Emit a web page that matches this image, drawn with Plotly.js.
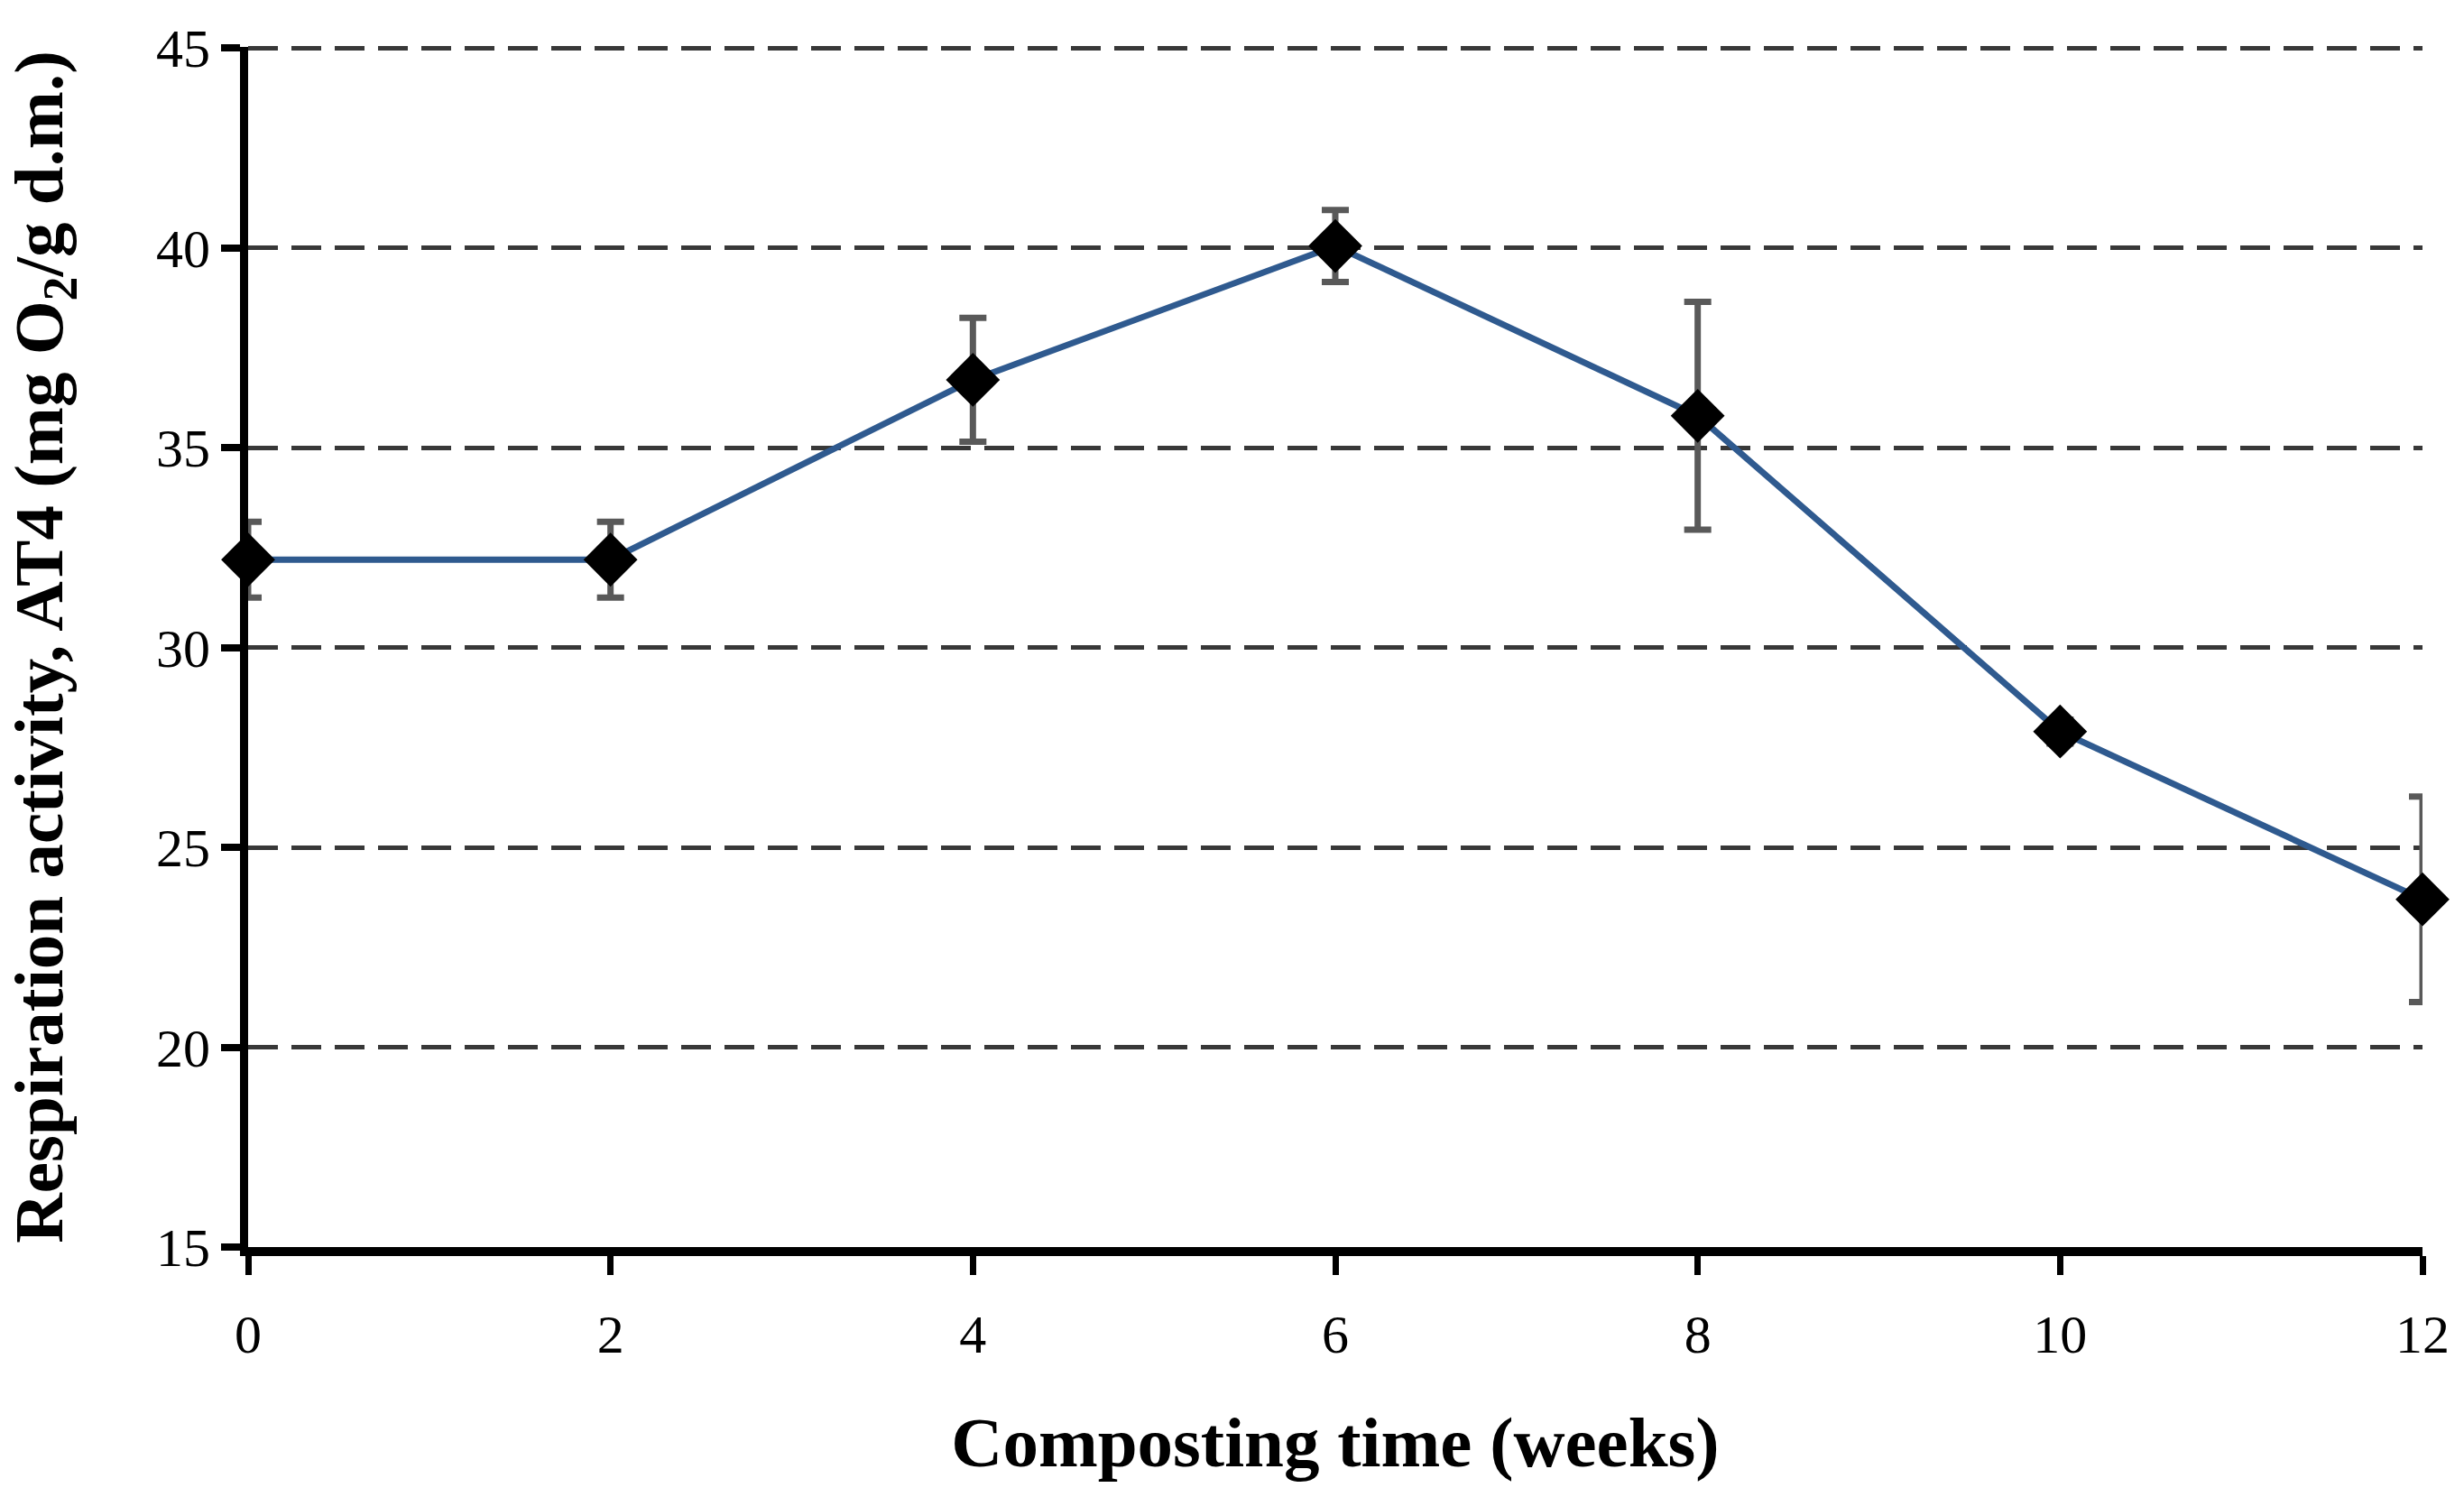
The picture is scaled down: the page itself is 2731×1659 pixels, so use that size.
<!DOCTYPE html>
<html>
<head>
<meta charset="utf-8">
<script src="https://cdn.plot.ly/plotly-3.0.1.min.js"></script>
<style>html,body{margin:0;padding:0;background:#fff;}#chart{width:2731px;height:1659px;}</style>
</head>
<body>
<div id="chart"></div>
<script>
// Data
const weeks = [0, 2, 4, 6, 8, 10, 12];
const at4 = [32.2, 32.2, 36.7, 40.05, 35.8, 27.9, 23.7];
const at4Err = [0.95, 0.95, 1.55, 0.9, 2.85, 0.3, 2.57];
const xTickVals = [0, 2, 4, 6, 8, 10, 12];
const yTickVals = [15, 20, 25, 30, 35, 40, 45];
const xTitle = "<b>Composting time (weeks)</b>";
const yTitle = "<b>Respiration activity, AT4 (mg O<sub>2</sub>/g d.m.)</b>";

const trace = {
  x: weeks,
  y: at4,
  type: 'scatter',
  mode: 'lines+markers',
  line: {color: '#2f5a8f', width: 7},
  marker: {symbol: 'diamond', size: 46, color: '#000000'},
  error_y: {type: 'data', array: at4Err, visible: true, color: '#595959', thickness: 7, width: 15},
  cliponaxis: false,
  showlegend: false
};

const layout = {
  width: 2731,
  height: 1659,
  margin: {l: 275, r: 46, t: 52, b: 277},
  paper_bgcolor: '#ffffff',
  plot_bgcolor: '#ffffff',
  font: {family: 'Liberation Serif, Times New Roman, serif', color: '#000000'},
  xaxis: {
    range: [0, 12],
    tickvals: xTickVals,
    ticktext: xTickVals.map(String),
    showgrid: false,
    zeroline: false,
    showline: true,
    linecolor: '#000000',
    linewidth: 10,
    ticks: 'outside',
    ticklen: 21,
    tickwidth: 7,
    tickcolor: '#000000',
    ticklabelstandoff: 14,
    tickfont: {size: 60, family: 'Liberation Serif, serif', color: '#000000'},
    title: {text: xTitle, font: {size: 79, family: 'Liberation Serif, serif', color: '#000000'}, standoff: 63}
  },
  yaxis: {
    range: [15, 45.03],
    tickvals: yTickVals,
    ticktext: yTickVals.map(String),
    showgrid: true,
    gridcolor: '#383838',
    gridwidth: 5,
    griddash: '33px,15px',
    zeroline: false,
    showline: true,
    linecolor: '#000000',
    linewidth: 9,
    ticks: 'outside',
    ticklen: 21,
    tickwidth: 8,
    tickcolor: '#000000',
    tickfont: {size: 60, family: 'Liberation Serif, serif', color: '#000000'},
    title: {text: yTitle, font: {size: 77, family: 'Liberation Serif, serif', color: '#000000'}, standoff: 85}
  }
};

Plotly.newPlot('chart', [trace], layout, {displayModeBar: false, staticPlot: true});
</script>
</body>
</html>
